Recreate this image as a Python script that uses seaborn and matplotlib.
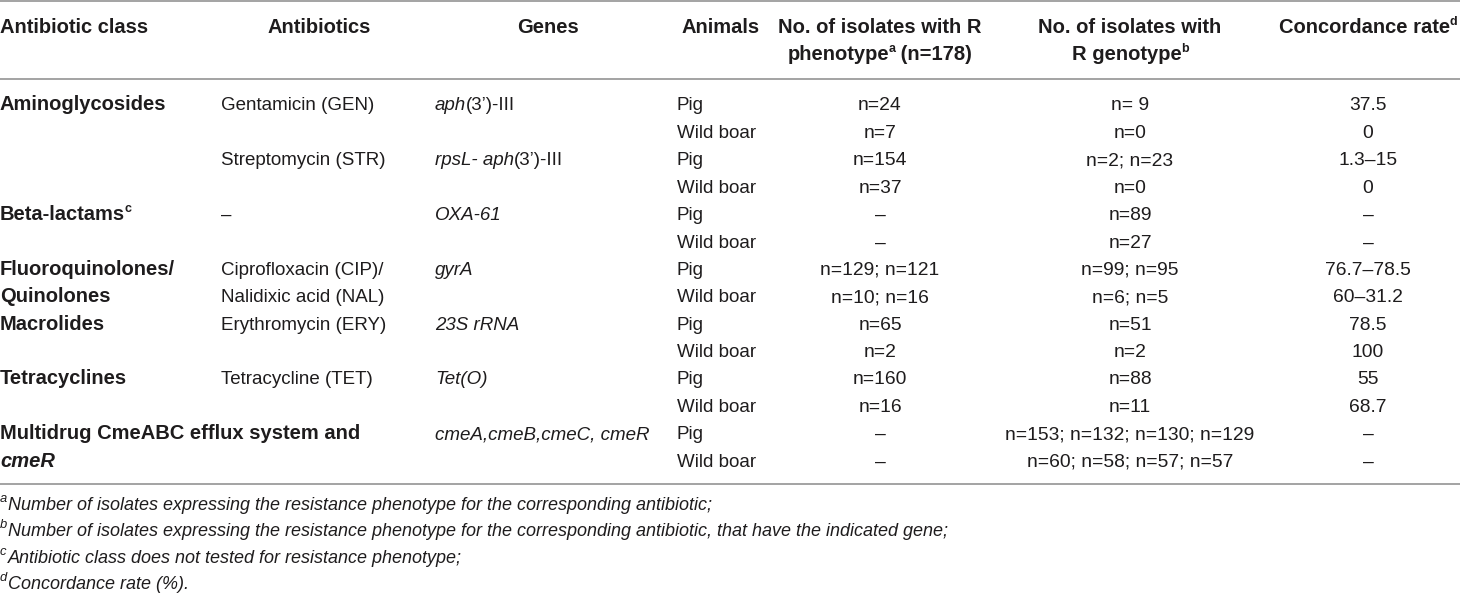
import matplotlib
matplotlib.use("Agg")
import matplotlib.pyplot as plt
import seaborn as sns

# table contents, row by row (14 data rows)
antibiotic_class = [
    [("Aminoglycosides", "b")], [], [], [],
    [("Beta-lactams", "b"), ("c", "bsup")], [],
    [("Fluoroquinolones/", "b")], [("Quinolones", "b")],
    [("Macrolides", "b")], [],
    [("Tetracyclines", "b")], [],
    [("Multidrug CmeABC efflux system and", "b")], [("cmeR", "bi")],
]
antibiotics = ["Gentamicin (GEN)", "", "Streptomycin (STR)", "", "–", "",
               "Ciprofloxacin (CIP)/", "Nalidixic acid (NAL)", "Erythromycin (ERY)", "",
               "Tetracycline (TET)", "", "", ""]
genes = [
    [("aph", "i"), ("(3’)-III", "r")], [],
    [("rpsL- aph", "i"), ("(3’)-III", "r")], [],
    [("OXA-61", "i")], [],
    [("gyrA", "i")], [],
    [("23S rRNA", "i")], [],
    [("Tet(O)", "i")], [],
    [("cmeA,cmeB,cmeC, cmeR", "i")], [],
]
animals = ["Pig", "Wild boar"] * 7
r_phenotype = ["n=24", "n=7", "n=154", "n=37", "–", "–", "n=129; n=121", "n=10; n=16",
               "n=65", "n=2", "n=160", "n=16", "–", "–"]
r_genotype = ["n= 9", "n=0", "n=2; n=23", "n=0", "n=89", "n=27", "n=99; n=95", "n=6; n=5",
              "n=51", "n=2", "n=88", "n=11", "n=153; n=132; n=130; n=129",
              "n=60; n=58; n=57; n=57"]
concordance = ["37.5", "0", "1.3–15", "0", "–", "–", "76.7–78.5", "60–31.2",
               "78.5", "100", "55", "68.7", "–", "–"]
footnotes = [
    ("a", "Number of isolates expressing the resistance phenotype for the corresponding antibiotic;"),
    ("b", "Number of isolates expressing the resistance phenotype for the corresponding antibiotic, that have the indicated gene;"),
    ("c", "Antibiotic class does not tested for resistance phenotype;"),
    ("d", "Concordance rate (%)."),
]

sns.set_theme(style="white")
plt.rcParams['font.family'] = ['Liberation Sans', 'DejaVu Sans']

W, H = 1460, 593
FS = 13.5
FS_BOLD = 14.5
FS_NUM = 13.9
INK = '#1e1c1d'
RULE = '#a3a3a3'

fig = plt.figure(figsize=(W / 100, H / 100), dpi=100)
ax = fig.add_axes([0, 0, 1, 1])
ax.set_xlim(0, W)
ax.set_ylim(H, 0)
ax.axis('off')
renderer = fig.canvas.get_renderer()


def draw_runs(x, y, runs, ha='left', size=FS, sup_scale=0.62, sup_gap=-1):
    # y is the baseline; runs are (text, style) pieces drawn side by side
    texts = []
    cx = x
    for txt, st in runs:
        weight = 'bold' if 'b' in st else 'normal'
        style = 'italic' if 'i' in st else 'normal'
        fs = FS_BOLD if ('b' in st and size == FS) else size
        if 'sup' in st:
            t = ax.text(cx - 0.5, y - 8, txt, fontsize=fs * sup_scale, fontweight=weight,
                        fontstyle=style, color=INK, va='baseline', ha='left')
            cx += t.get_window_extent(renderer).width + sup_gap
        else:
            t = ax.text(cx, y, txt, fontsize=fs, fontweight=weight,
                        fontstyle=style, color=INK, va='baseline', ha='left')
            cx += t.get_window_extent(renderer).width
        texts.append(t)
    if ha == 'center':
        shift = (cx - x) / 2
        for t in texts:
            t.set_x(t.get_position()[0] - shift)
    return texts


# rules
for yy in (1, 78.5, 483.5):
    ax.hlines(yy, 0, W, color=RULE, lw=1.4)

# header
base = 6.5
h1, h2 = 26.7 + base, 53.3 + base
draw_runs(0, h1, [("Antibiotic class", "b")])
draw_runs(319.5, h1, [("Antibiotics", "b")], ha='center')
draw_runs(548, h1, [("Genes", "b")], ha='center')
draw_runs(681, h1, [("Animals", "b")])
draw_runs(880, h1, [("No. of isolates with R", "b")], ha='center')
draw_runs(880, h2, [("phenotype", "b"), ("a", "bsup"), (" (n=178)", "b")], ha='center')
draw_runs(1130, h1, [("No. of isolates with", "b")], ha='center')
draw_runs(1130, h2, [("R genotype", "b"), ("b", "bsup")], ha='center')
draw_runs(1368, h1, [("Concordance rate", "b"), ("d", "bsup")], ha='center')

# body
row0, step = 104, 27.4
for i in range(len(animals)):
    yb = row0 + i * step + base
    if antibiotic_class[i]:
        draw_runs(0, yb, antibiotic_class[i])
    if antibiotics[i]:
        draw_runs(221, yb, [(antibiotics[i], "r")])
    if genes[i]:
        draw_runs(435, yb, genes[i])
    draw_runs(677, yb, [(animals[i], "r")])
    draw_runs(880, yb, [(r_phenotype[i], "r")], ha='center', size=FS_NUM)
    draw_runs(1130, yb, [(r_genotype[i], "r")], ha='center', size=FS_NUM)
    draw_runs(1368, yb, [(concordance[i], "r")], ha='center', size=FS_NUM)

# footnotes
for k, (letter, note) in enumerate(footnotes):
    yb = 503.3 + k * 26.4 + base
    draw_runs(0, yb, [(letter, "isup"), (note, "i")], size=13.0, sup_scale=0.72, sup_gap=1)

fig.savefig("out.png", dpi=100)
